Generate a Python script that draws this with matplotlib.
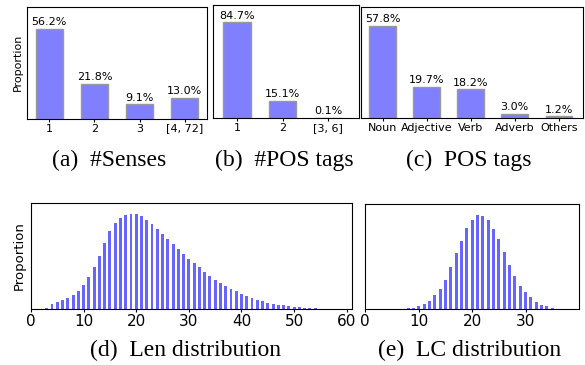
import numpy as np
import matplotlib
matplotlib.use('Agg')
import matplotlib.pyplot as plt

# top row: category shares in percent
senses_labels = ['1', '2', '3', '[4, 72]']
senses_pct = [56.2, 21.8, 9.1, 13.0]

postags_labels = ['1', '2', '[3, 6]']
postags_pct = [84.7, 15.1, 0.1]

pos_labels = ['Noun', 'Adjective', 'Verb', 'Adverb', 'Others']
pos_pct = [57.8, 19.7, 18.2, 3.0, 1.2]

# bottom row: relative proportions (peak = 1)
len_x = list(range(60))
len_prop = [0.002, 0.002, 0.002, 0.012, 0.055, 0.075, 0.096, 0.117, 0.148, 0.19,
            0.254, 0.338, 0.443, 0.559, 0.695, 0.821, 0.905, 0.958, 0.991, 1.0,
            1.0, 0.979, 0.937, 0.895, 0.842, 0.789, 0.737, 0.684, 0.632, 0.579,
            0.527, 0.485, 0.443, 0.39, 0.348, 0.306, 0.275, 0.243, 0.212, 0.19,
            0.163, 0.138, 0.117, 0.096, 0.085, 0.065, 0.05, 0.043, 0.04, 0.03,
            0.022, 0.02, 0.012, 0.01, 0.008, 0.003, 0.003, 0.003, 0.003, 0.003]

lc_x = list(range(40))
lc_prop = [0.002, 0.002, 0.002, 0.002, 0.002, 0.002, 0.002, 0.002, 0.012, 0.012,
           0.033, 0.055, 0.086, 0.15, 0.214, 0.31, 0.448, 0.596, 0.723, 0.862,
           0.947, 1.0, 0.989, 0.947, 0.851, 0.745, 0.607, 0.469, 0.352, 0.25,
           0.182, 0.13, 0.076, 0.045, 0.033, 0.012, 0.002, 0.002, 0.002, 0.002]

W, H = 585, 365
fig = plt.figure(figsize=(W / 100, H / 100), dpi=100)


def add_ax(left, right, top, bottom):
    return fig.add_axes([left / W, 1 - bottom / H, (right - left) / W, (bottom - top) / H])


def cat_bars(ax, labels, vals, ymax, xlim):
    x = np.arange(len(vals))
    ax.bar(x, vals, width=0.6, color='#8080ff', edgecolor='#999999', linewidth=1)
    for xi, v in zip(x, vals):
        ax.text(xi, v + ymax * 0.015, f'{v:.1f}%', ha='center', va='bottom', fontsize=8)
    ax.set_xticks(x)
    ax.set_xticklabels(labels, fontsize=8)
    ax.set_yticks([])
    ax.set_ylim(0, ymax)
    ax.set_xlim(*xlim)
    ax.tick_params(axis='x', length=2.5, pad=1)


ax_a = add_ax(26.7, 207.3, 6.7, 118.7)
cat_bars(ax_a, senses_labels, senses_pct, 70.2, (-0.5, 3.5))
ax_a.set_ylabel('Proportion', fontsize=8, labelpad=3)

ax_b = add_ax(213.3, 358.5, 5, 118.3)
cat_bars(ax_b, postags_labels, postags_pct, 100, (-0.52, 2.66))

ax_c = add_ax(360.5, 582.5, 6.7, 118.3)
cat_bars(ax_c, pos_labels, pos_pct, 70, (-0.5, 4.54))


def dist_bars(ax, x, vals, xlim, ticks):
    ax.bar(x, vals, width=0.55, color='#6666ff', linewidth=0)
    ax.set_xlim(*xlim)
    ax.set_ylim(0, 1.12)
    ax.set_yticks([])
    ax.set_xticks(ticks)
    ax.tick_params(axis='x', labelsize=11, length=2.5, pad=1)


ax_d = add_ax(31, 352.3, 203, 309)
dist_bars(ax_d, len_x, len_prop, (0, 61.06), [0, 10, 20, 30, 40, 50, 60])
ax_d.set_ylabel('Proportion', fontsize=9.5, labelpad=4)

ax_e = add_ax(365.3, 579, 204, 309)
dist_bars(ax_e, lc_x, lc_prop, (0, 40), [0, 10, 20, 30])

cap = dict(ha='center', va='center', fontsize=17, family='Liberation Serif')
fig.text(109 / W, 1 - 160 / H, '(a)  #Senses', **cap)
fig.text(284 / W, 1 - 160 / H, '(b)  #POS tags', **cap)
fig.text(469 / W, 1 - 160 / H, '(c)  POS tags', **cap)
fig.text(185 / W, 1 - 350 / H, '(d)  Len distribution', **cap)
fig.text(470 / W, 1 - 350 / H, '(e)  LC distribution', **cap)

fig.savefig('out.png', dpi=100)
